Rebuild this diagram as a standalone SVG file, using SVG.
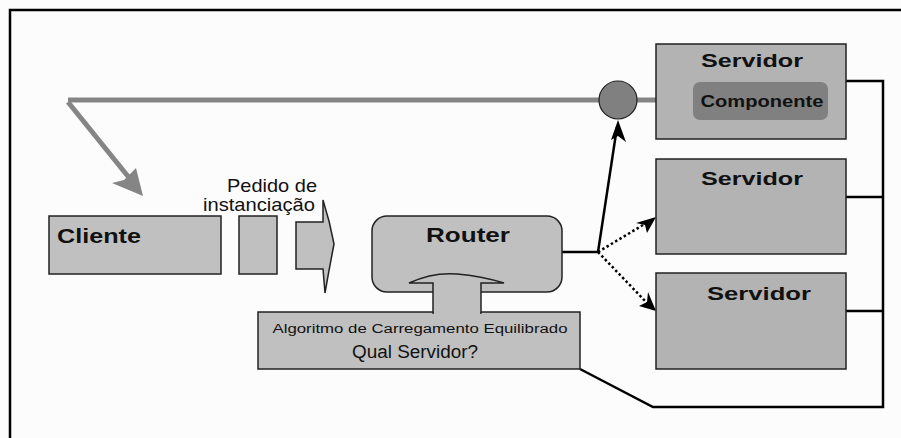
<svg xmlns="http://www.w3.org/2000/svg" width="901" height="438" viewBox="0 0 901 438">
<style>
.box{fill:#c0c0c0;stroke:#222;stroke-width:1.5}
.srv{fill:#b3b3b3;stroke:#222;stroke-width:1.5}
.bold{font-family:"Liberation Sans",Arial,sans-serif;font-weight:bold;fill:#111}
.reg{font-family:"Liberation Sans",Arial,sans-serif;fill:#111}
.wire{fill:none;stroke:#000;stroke-width:2.5}
</style>
<rect width="901" height="438" fill="#fdfcfd"/>
<path d="M10,438 L10,10 L901,10" fill="none" stroke="#000" stroke-width="2.5"/>

<g id="connectors">
<path d="M68,100 L600,100 M636,100 L695,100" stroke="#858585" stroke-width="5" fill="none"/>
<path d="M68,102 L139,190" stroke="#858585" stroke-width="5" fill="none"/>
<path d="M143,196 L112,183 L124,180 L136,168 Z" fill="#858585"/>
<path d="M562,252 L598,252" class="wire" stroke-width="2"/>
<path d="M598,252 L617,127" stroke="#000" stroke-width="2.5" fill="none"/>
<path d="M618,120 L626,142 L618,136 L611,140 Z" fill="#000"/>
<path d="M598,252 L648,222" stroke="#000" stroke-width="2.5" stroke-dasharray="2.5,2.5" fill="none"/>
<path d="M656,217 L647,233 L645,225 L636,223 Z" fill="#000"/>
<path d="M598,252 L648,304" stroke="#000" stroke-width="2.5" stroke-dasharray="2.5,2.5" fill="none"/>
<path d="M656,311 L639,306 L647,302 L648,292 Z" fill="#000"/>
<path d="M846,81 L883,81 L883,407 L653,407 L580,369 M846,197 L883,197 M846,311 L883,311" class="wire"/>
</g>

<g id="circle">
<circle cx="618" cy="100" r="19" fill="#808080" stroke="#222" stroke-width="1.2"/>
</g>

<g id="servidor1">
<rect x="656" y="44" width="190" height="95" class="srv"/>
<text x="752" y="67" text-anchor="middle" class="bold" font-size="19" textLength="102" lengthAdjust="spacingAndGlyphs">Servidor</text>
<rect x="693" y="82" width="135" height="38" rx="7" fill="#808080"/>
<text x="762" y="107" text-anchor="middle" class="bold" font-size="17" textLength="123" lengthAdjust="spacingAndGlyphs">Componente</text>
</g>

<g id="servidor2">
<rect x="656" y="159" width="190" height="95" class="srv"/>
<text x="752" y="185" text-anchor="middle" class="bold" font-size="19" textLength="102" lengthAdjust="spacingAndGlyphs">Servidor</text>
</g>

<g id="servidor3">
<rect x="656" y="273" width="190" height="96" class="srv"/>
<text x="759" y="300" text-anchor="middle" class="bold" font-size="19" textLength="104" lengthAdjust="spacingAndGlyphs">Servidor</text>
</g>

<g id="cliente">
<rect x="49" y="216" width="172" height="58" class="box"/>
<text x="57" y="243" class="bold" font-size="20" textLength="84" lengthAdjust="spacingAndGlyphs">Cliente</text>
</g>

<g id="pacote">
<rect x="239" y="216" width="38" height="58" class="box"/>
</g>

<g id="pedido">
<path d="M296,222 L323,222 L323,200 Q330,222 334,244 Q329,270 325,293 L323,269 L296,269 Z" class="box"/>
<text x="272" y="192" text-anchor="middle" class="reg" font-size="19" textLength="90" lengthAdjust="spacingAndGlyphs">Pedido de</text>
<text x="259" y="211" text-anchor="middle" class="reg" font-size="19" textLength="112" lengthAdjust="spacingAndGlyphs">instanciação</text>
</g>

<g id="algoritmo">
<rect x="258" y="312" width="322" height="57" class="box"/>
<text x="420" y="333" text-anchor="middle" class="reg" font-size="12.5" textLength="295" lengthAdjust="spacingAndGlyphs">Algoritmo de Carregamento Equilibrado</text>
<text x="415" y="358" text-anchor="middle" class="reg" font-size="18" textLength="126" lengthAdjust="spacingAndGlyphs">Qual Servidor?</text>
</g>

<g id="router">
<rect x="372" y="216" width="190" height="76" rx="15" class="box"/>
<text x="468" y="242" text-anchor="middle" class="bold" font-size="21" textLength="84" lengthAdjust="spacingAndGlyphs">Router</text>
<path d="M433,313 L433,283 L409,283 Q433,272 457,274 Q481,276 504,283 L481,283 L481,313 Z" fill="#c0c0c0" stroke="#222" stroke-width="1.5"/>
<rect x="434" y="300" width="46" height="14" fill="#c0c0c0"/>
</g>
</svg>
